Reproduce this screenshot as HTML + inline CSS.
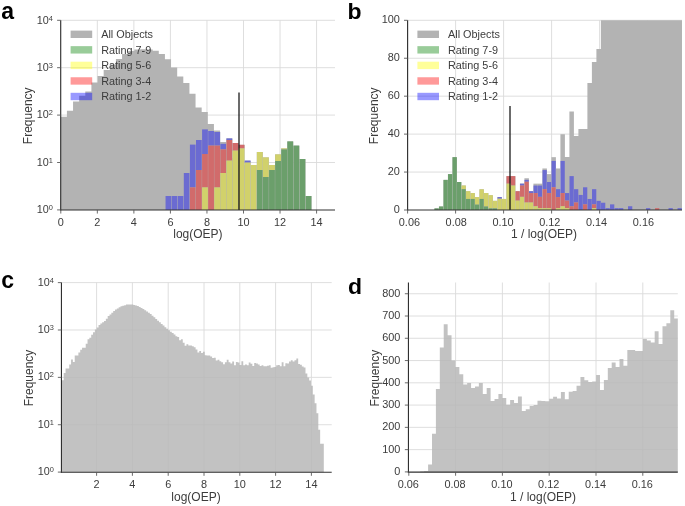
<!DOCTYPE html>
<html><head><meta charset="utf-8"><title>Figure</title>
<style>
html,body{margin:0;padding:0;background:#fff;}
body{width:685px;height:506px;overflow:hidden;}
svg{display:block;will-change:transform;font-family:'Liberation Sans', sans-serif;}
</style></head><body>
<svg width="685" height="506" viewBox="0 0 685 506" font-family='"Liberation Sans", sans-serif'>
<rect x="0" y="0" width="685" height="506" fill="#ffffff"/>
<line x1="97.34" y1="20.20" x2="97.34" y2="209.95" stroke="#dadada" stroke-width="0.9"/>
<line x1="133.88" y1="20.20" x2="133.88" y2="209.95" stroke="#dadada" stroke-width="0.9"/>
<line x1="170.42" y1="20.20" x2="170.42" y2="209.95" stroke="#dadada" stroke-width="0.9"/>
<line x1="206.96" y1="20.20" x2="206.96" y2="209.95" stroke="#dadada" stroke-width="0.9"/>
<line x1="243.50" y1="20.20" x2="243.50" y2="209.95" stroke="#dadada" stroke-width="0.9"/>
<line x1="280.04" y1="20.20" x2="280.04" y2="209.95" stroke="#dadada" stroke-width="0.9"/>
<line x1="316.58" y1="20.20" x2="316.58" y2="209.95" stroke="#dadada" stroke-width="0.9"/>
<line x1="60.70" y1="162.50" x2="335.00" y2="162.50" stroke="#dadada" stroke-width="0.9"/>
<line x1="60.70" y1="115.10" x2="335.00" y2="115.10" stroke="#dadada" stroke-width="0.9"/>
<line x1="60.70" y1="67.70" x2="335.00" y2="67.70" stroke="#dadada" stroke-width="0.9"/>
<line x1="60.70" y1="20.30" x2="335.00" y2="20.30" stroke="#dadada" stroke-width="0.9"/>
<polygon fill="#b3b3b3" points="60.70,209.95 60.80,116.80 66.92,116.80 66.92,110.80 73.05,110.80 73.05,101.40 79.17,101.40 79.17,95.80 85.30,95.80 85.30,91.60 91.42,91.60 91.42,82.50 97.55,82.50 97.55,76.10 103.67,76.10 103.67,69.90 109.80,69.90 109.80,64.40 115.92,64.40 115.92,59.00 122.05,59.00 122.05,54.00 128.18,54.00 128.18,51.00 134.30,51.00 134.30,49.60 140.43,49.60 140.43,49.30 146.55,49.30 146.55,49.50 152.68,49.50 152.68,50.70 158.80,50.70 158.80,53.90 164.93,53.90 164.93,59.20 171.05,59.20 171.05,67.40 177.18,67.40 177.18,76.60 183.30,76.60 183.30,82.90 189.43,82.90 189.43,93.80 195.55,93.80 195.55,107.60 201.68,107.60 201.68,112.00 207.80,112.00 207.80,124.00 213.93,124.00 213.93,130.60 220.05,130.60 220.05,142.00 226.18,142.00 226.18,150.00 232.30,150.00 232.30,158.00 238.43,158.00 238.43,165.00 244.55,165.00 244.55,209.95"/>
<rect x="165.40" y="196.00" width="6.09" height="13.95" fill="#b3b3b3" />
<rect x="165.55" y="196.00" width="5.79" height="13.95" fill="#6b6bd1" />
<rect x="171.49" y="196.00" width="6.09" height="13.95" fill="#b3b3b3" />
<rect x="171.64" y="196.00" width="5.79" height="13.95" fill="#6b6bd1" />
<rect x="177.58" y="196.00" width="6.09" height="13.95" fill="#b3b3b3" />
<rect x="177.73" y="196.00" width="5.79" height="13.95" fill="#6b6bd1" />
<rect x="183.67" y="173.00" width="6.09" height="36.95" fill="#b3b3b3" />
<rect x="183.82" y="173.00" width="5.79" height="36.95" fill="#6b6bd1" />
<rect x="189.76" y="144.60" width="6.09" height="65.35" fill="#b3b3b3" />
<rect x="189.91" y="144.60" width="5.79" height="42.80" fill="#6b6bd1" />
<rect x="189.91" y="187.40" width="5.79" height="22.55" fill="#d16b6b" />
<rect x="195.85" y="140.00" width="6.09" height="69.95" fill="#b3b3b3" />
<rect x="196.00" y="140.00" width="5.79" height="30.00" fill="#6b6bd1" />
<rect x="196.00" y="170.00" width="5.79" height="39.95" fill="#d16b6b" />
<rect x="201.94" y="129.40" width="6.09" height="80.55" fill="#b3b3b3" />
<rect x="202.09" y="129.40" width="5.79" height="24.60" fill="#6b6bd1" />
<rect x="202.09" y="154.00" width="5.79" height="33.40" fill="#d16b6b" />
<rect x="202.09" y="187.40" width="5.79" height="22.55" fill="#d1d16b" />
<rect x="208.03" y="131.00" width="6.09" height="78.95" fill="#b3b3b3" />
<rect x="208.18" y="131.00" width="5.79" height="14.60" fill="#6b6bd1" />
<rect x="208.18" y="145.60" width="5.79" height="64.35" fill="#d16b6b" />
<rect x="214.12" y="132.00" width="6.09" height="77.95" fill="#b3b3b3" />
<rect x="214.27" y="132.00" width="5.79" height="13.60" fill="#6b6bd1" />
<rect x="214.27" y="145.60" width="5.79" height="41.80" fill="#d16b6b" />
<rect x="214.27" y="187.40" width="5.79" height="22.55" fill="#d1d16b" />
<rect x="220.21" y="143.80" width="6.09" height="66.15" fill="#b3b3b3" />
<rect x="220.36" y="143.80" width="5.79" height="5.60" fill="#6b6bd1" />
<rect x="220.36" y="149.40" width="5.79" height="23.60" fill="#d16b6b" />
<rect x="220.36" y="173.00" width="5.79" height="36.95" fill="#d1d16b" />
<rect x="226.30" y="138.40" width="6.09" height="71.55" fill="#b3b3b3" />
<rect x="226.45" y="138.40" width="5.79" height="1.60" fill="#6b6bd1" />
<rect x="226.45" y="140.00" width="5.79" height="20.60" fill="#d16b6b" />
<rect x="226.45" y="160.60" width="5.79" height="49.35" fill="#d1d16b" />
<rect x="232.39" y="143.00" width="6.09" height="66.95" fill="#b3b3b3" />
<rect x="232.54" y="143.00" width="5.79" height="7.60" fill="#d16b6b" />
<rect x="232.54" y="150.60" width="5.79" height="59.35" fill="#d1d16b" />
<rect x="238.48" y="144.80" width="6.09" height="65.15" fill="#b3b3b3" />
<rect x="238.63" y="144.80" width="5.79" height="3.60" fill="#d16b6b" />
<rect x="238.63" y="148.40" width="5.79" height="61.55" fill="#d1d16b" />
<rect x="244.57" y="160.60" width="6.09" height="49.35" fill="#b3b3b3" />
<rect x="244.72" y="160.60" width="5.79" height="2.00" fill="#6b6bd1" />
<rect x="244.72" y="162.60" width="5.79" height="47.35" fill="#d1d16b" />
<rect x="250.66" y="165.00" width="6.09" height="44.95" fill="#b3b3b3" />
<rect x="250.81" y="165.00" width="5.79" height="44.95" fill="#d1d16b" />
<rect x="256.75" y="152.00" width="6.09" height="57.95" fill="#b3b3b3" />
<rect x="256.90" y="152.00" width="5.79" height="18.00" fill="#d1d16b" />
<rect x="256.90" y="170.00" width="5.79" height="39.95" fill="#6b9f6b" />
<rect x="262.84" y="157.40" width="6.09" height="52.55" fill="#b3b3b3" />
<rect x="262.99" y="157.40" width="5.79" height="19.60" fill="#d1d16b" />
<rect x="262.99" y="177.00" width="5.79" height="32.95" fill="#6b9f6b" />
<rect x="268.93" y="165.00" width="6.09" height="44.95" fill="#b3b3b3" />
<rect x="269.08" y="165.00" width="5.79" height="5.00" fill="#d1d16b" />
<rect x="269.08" y="170.00" width="5.79" height="39.95" fill="#6b9f6b" />
<rect x="275.02" y="154.40" width="6.09" height="55.55" fill="#b3b3b3" />
<rect x="275.17" y="154.40" width="5.79" height="6.60" fill="#d1d16b" />
<rect x="275.17" y="161.00" width="5.79" height="48.95" fill="#6b9f6b" />
<rect x="281.11" y="148.40" width="6.09" height="61.55" fill="#b3b3b3" />
<rect x="281.26" y="148.40" width="5.79" height="1.00" fill="#d1d16b" />
<rect x="281.26" y="149.40" width="5.79" height="60.55" fill="#6b9f6b" />
<rect x="287.20" y="141.40" width="6.09" height="68.55" fill="#b3b3b3" />
<rect x="287.35" y="141.40" width="5.79" height="68.55" fill="#6b9f6b" />
<rect x="293.29" y="145.60" width="6.09" height="64.35" fill="#b3b3b3" />
<rect x="293.44" y="145.60" width="5.79" height="64.35" fill="#6b9f6b" />
<rect x="299.38" y="159.00" width="6.09" height="50.95" fill="#b3b3b3" />
<rect x="299.53" y="159.00" width="5.79" height="50.95" fill="#6b9f6b" />
<rect x="305.47" y="196.00" width="6.09" height="13.95" fill="#b3b3b3" />
<rect x="305.62" y="196.00" width="5.79" height="13.95" fill="#6b9f6b" />
<rect x="238" y="92.5" width="2" height="117.45" fill="#000" fill-opacity="0.58"/>
<line x1="60.70" y1="20.20" x2="60.70" y2="210.55" stroke="#303030" stroke-width="1.15"/>
<line x1="60.10" y1="209.95" x2="335.00" y2="209.95" stroke="#303030" stroke-width="1.15"/>
<line x1="60.80" y1="209.95" x2="60.80" y2="213.55" stroke="#5a5a5a" stroke-width="0.9"/>
<text x="60.80" y="225.80" font-size="10.9" text-anchor="middle" fill="#3c3c3c" >0</text>
<line x1="97.34" y1="209.95" x2="97.34" y2="213.55" stroke="#5a5a5a" stroke-width="0.9"/>
<text x="97.34" y="225.80" font-size="10.9" text-anchor="middle" fill="#3c3c3c" >2</text>
<line x1="133.88" y1="209.95" x2="133.88" y2="213.55" stroke="#5a5a5a" stroke-width="0.9"/>
<text x="133.88" y="225.80" font-size="10.9" text-anchor="middle" fill="#3c3c3c" >4</text>
<line x1="170.42" y1="209.95" x2="170.42" y2="213.55" stroke="#5a5a5a" stroke-width="0.9"/>
<text x="170.42" y="225.80" font-size="10.9" text-anchor="middle" fill="#3c3c3c" >6</text>
<line x1="206.96" y1="209.95" x2="206.96" y2="213.55" stroke="#5a5a5a" stroke-width="0.9"/>
<text x="206.96" y="225.80" font-size="10.9" text-anchor="middle" fill="#3c3c3c" >8</text>
<line x1="243.50" y1="209.95" x2="243.50" y2="213.55" stroke="#5a5a5a" stroke-width="0.9"/>
<text x="243.50" y="225.80" font-size="10.9" text-anchor="middle" fill="#3c3c3c" >10</text>
<line x1="280.04" y1="209.95" x2="280.04" y2="213.55" stroke="#5a5a5a" stroke-width="0.9"/>
<text x="280.04" y="225.80" font-size="10.9" text-anchor="middle" fill="#3c3c3c" >12</text>
<line x1="316.58" y1="209.95" x2="316.58" y2="213.55" stroke="#5a5a5a" stroke-width="0.9"/>
<text x="316.58" y="225.80" font-size="10.9" text-anchor="middle" fill="#3c3c3c" >14</text>
<line x1="57.10" y1="209.90" x2="60.70" y2="209.90" stroke="#5a5a5a" stroke-width="0.9"/>
<text x="52.80" y="213.10" font-size="10.8" text-anchor="end" fill="#3c3c3c">10<tspan font-size="7.4" dy="-3.0">0</tspan></text>
<line x1="57.10" y1="162.50" x2="60.70" y2="162.50" stroke="#5a5a5a" stroke-width="0.9"/>
<text x="52.80" y="165.70" font-size="10.8" text-anchor="end" fill="#3c3c3c">10<tspan font-size="7.4" dy="-3.0">1</tspan></text>
<line x1="57.10" y1="115.10" x2="60.70" y2="115.10" stroke="#5a5a5a" stroke-width="0.9"/>
<text x="52.80" y="118.30" font-size="10.8" text-anchor="end" fill="#3c3c3c">10<tspan font-size="7.4" dy="-3.0">2</tspan></text>
<line x1="57.10" y1="67.70" x2="60.70" y2="67.70" stroke="#5a5a5a" stroke-width="0.9"/>
<text x="52.80" y="70.90" font-size="10.8" text-anchor="end" fill="#3c3c3c">10<tspan font-size="7.4" dy="-3.0">3</tspan></text>
<line x1="57.10" y1="20.30" x2="60.70" y2="20.30" stroke="#5a5a5a" stroke-width="0.9"/>
<text x="52.80" y="23.50" font-size="10.8" text-anchor="end" fill="#3c3c3c">10<tspan font-size="7.4" dy="-3.0">4</tspan></text>
<text x="197.90" y="238.20" font-size="12" text-anchor="middle" fill="#3c3c3c" >log(OEP)</text>
<text transform="translate(31.80,115.80) rotate(-90)" font-size="12" text-anchor="middle" fill="#3c3c3c">Frequency</text>
<rect x="70.60" y="30.60" width="21.60" height="7.40" fill="#b3b3b3" />
<text x="101.20" y="38.10" font-size="10.85" text-anchor="start" fill="#3c3c3c" >All Objects</text>
<rect x="70.60" y="46.15" width="21.60" height="7.40" fill="#008000" fill-opacity="0.4"/>
<text x="101.20" y="53.65" font-size="10.85" text-anchor="start" fill="#3c3c3c" >Rating 7-9</text>
<rect x="70.60" y="61.70" width="21.60" height="7.40" fill="#ffff00" fill-opacity="0.4"/>
<text x="101.20" y="69.20" font-size="10.85" text-anchor="start" fill="#3c3c3c" >Rating 5-6</text>
<rect x="70.60" y="77.25" width="21.60" height="7.40" fill="#ff0000" fill-opacity="0.4"/>
<text x="101.20" y="84.75" font-size="10.85" text-anchor="start" fill="#3c3c3c" >Rating 3-4</text>
<rect x="70.60" y="92.80" width="21.60" height="7.40" fill="#0000ff" fill-opacity="0.4"/>
<text x="101.20" y="100.30" font-size="10.85" text-anchor="start" fill="#3c3c3c" >Rating 1-2</text>
<text x="1.2" y="18.6" font-size="23" font-weight="bold" fill="#000">a</text>
<line x1="455.60" y1="20.20" x2="455.60" y2="209.95" stroke="#dadada" stroke-width="0.9"/>
<line x1="503.60" y1="20.20" x2="503.60" y2="209.95" stroke="#dadada" stroke-width="0.9"/>
<line x1="551.60" y1="20.20" x2="551.60" y2="209.95" stroke="#dadada" stroke-width="0.9"/>
<line x1="599.60" y1="20.20" x2="599.60" y2="209.95" stroke="#dadada" stroke-width="0.9"/>
<line x1="647.60" y1="20.20" x2="647.60" y2="209.95" stroke="#dadada" stroke-width="0.9"/>
<line x1="407.60" y1="172.06" x2="682.00" y2="172.06" stroke="#dadada" stroke-width="0.9"/>
<line x1="407.60" y1="134.12" x2="682.00" y2="134.12" stroke="#dadada" stroke-width="0.9"/>
<line x1="407.60" y1="96.18" x2="682.00" y2="96.18" stroke="#dadada" stroke-width="0.9"/>
<line x1="407.60" y1="58.24" x2="682.00" y2="58.24" stroke="#dadada" stroke-width="0.9"/>
<line x1="407.60" y1="20.30" x2="682.00" y2="20.30" stroke="#dadada" stroke-width="0.9"/>
<polygon fill="#b3b3b3" points="560.40,209.95 560.40,134.20 564.90,134.20 564.90,156.91 569.40,156.91 569.40,111.60 573.90,111.60 573.90,136.00 578.40,136.00 578.40,129.00 582.90,129.00 582.90,129.00 587.40,129.00 587.40,83.00 591.90,83.00 591.90,62.00 596.40,62.00 596.40,49.00 600.90,49.00 600.90,20.20 605.40,20.20 605.40,20.20 609.90,20.20 609.90,20.20 614.40,20.20 614.40,20.20 618.90,20.20 618.90,20.20 623.40,20.20 623.40,20.20 627.90,20.20 627.90,20.20 632.40,20.20 632.40,20.20 636.90,20.20 636.90,20.20 641.40,20.20 641.40,20.20 645.90,20.20 645.90,20.20 650.40,20.20 650.40,20.20 654.90,20.20 654.90,20.20 659.40,20.20 659.40,20.20 663.90,20.20 663.90,20.20 668.40,20.20 668.40,20.20 672.90,20.20 672.90,20.20 677.40,20.20 677.40,20.20 681.90,20.20 681.90,20.20 682.00,20.20 682.00,209.95"/>
<rect x="434.40" y="208.38" width="4.50" height="1.57" fill="#b3b3b3" />
<rect x="434.52" y="208.38" width="4.26" height="1.57" fill="#6b9f6b" />
<rect x="438.90" y="206.50" width="4.50" height="3.45" fill="#b3b3b3" />
<rect x="439.02" y="206.50" width="4.26" height="3.45" fill="#6b9f6b" />
<rect x="443.40" y="179.88" width="4.50" height="30.07" fill="#b3b3b3" />
<rect x="443.52" y="179.88" width="4.26" height="30.07" fill="#6b9f6b" />
<rect x="447.90" y="174.11" width="4.50" height="35.84" fill="#b3b3b3" />
<rect x="448.02" y="174.11" width="4.26" height="35.84" fill="#6b9f6b" />
<rect x="452.40" y="157.16" width="4.50" height="52.79" fill="#b3b3b3" />
<rect x="452.52" y="157.16" width="4.26" height="52.79" fill="#6b9f6b" />
<rect x="456.90" y="182.02" width="4.50" height="27.93" fill="#b3b3b3" />
<rect x="457.02" y="182.02" width="4.26" height="27.93" fill="#6b9f6b" />
<rect x="461.40" y="185.53" width="4.50" height="24.42" fill="#b3b3b3" />
<rect x="461.52" y="185.53" width="4.26" height="3.64" fill="#d1d16b" />
<rect x="461.52" y="189.17" width="4.26" height="20.78" fill="#6b9f6b" />
<rect x="465.90" y="191.18" width="4.50" height="18.77" fill="#b3b3b3" />
<rect x="466.02" y="191.18" width="4.26" height="7.78" fill="#d1d16b" />
<rect x="466.02" y="198.96" width="4.26" height="10.99" fill="#6b9f6b" />
<rect x="470.40" y="193.06" width="4.50" height="16.89" fill="#b3b3b3" />
<rect x="470.52" y="193.06" width="4.26" height="5.90" fill="#d1d16b" />
<rect x="470.52" y="198.96" width="4.26" height="10.99" fill="#6b9f6b" />
<rect x="474.90" y="197.08" width="4.50" height="12.87" fill="#b3b3b3" />
<rect x="475.02" y="197.08" width="4.26" height="7.53" fill="#d1d16b" />
<rect x="475.02" y="204.61" width="4.26" height="5.34" fill="#6b9f6b" />
<rect x="479.40" y="189.30" width="4.50" height="20.65" fill="#b3b3b3" />
<rect x="479.52" y="189.30" width="4.26" height="9.67" fill="#d1d16b" />
<rect x="479.52" y="198.96" width="4.26" height="10.99" fill="#6b9f6b" />
<rect x="483.90" y="193.06" width="4.50" height="16.89" fill="#b3b3b3" />
<rect x="484.02" y="193.06" width="4.26" height="13.43" fill="#d1d16b" />
<rect x="484.02" y="206.50" width="4.26" height="3.45" fill="#6b9f6b" />
<rect x="488.40" y="195.20" width="4.50" height="14.75" fill="#b3b3b3" />
<rect x="488.52" y="195.20" width="4.26" height="13.18" fill="#d1d16b" />
<rect x="488.52" y="208.38" width="4.26" height="1.57" fill="#6b9f6b" />
<rect x="492.90" y="200.85" width="4.50" height="9.10" fill="#b3b3b3" />
<rect x="493.02" y="200.85" width="4.26" height="7.53" fill="#d1d16b" />
<rect x="493.02" y="208.38" width="4.26" height="1.57" fill="#6b9f6b" />
<rect x="497.40" y="197.08" width="4.50" height="12.87" fill="#b3b3b3" />
<rect x="497.52" y="197.08" width="4.26" height="1.63" fill="#6b6bd1" />
<rect x="497.52" y="198.71" width="4.26" height="11.24" fill="#d1d16b" />
<rect x="501.90" y="198.96" width="4.50" height="10.99" fill="#b3b3b3" />
<rect x="502.02" y="198.96" width="4.26" height="10.99" fill="#d1d16b" />
<rect x="506.40" y="176.11" width="4.50" height="33.84" fill="#b3b3b3" />
<rect x="506.52" y="176.11" width="4.26" height="7.53" fill="#d16b6b" />
<rect x="506.52" y="183.65" width="4.26" height="26.30" fill="#d1d16b" />
<rect x="510.90" y="176.11" width="4.50" height="33.84" fill="#b3b3b3" />
<rect x="511.02" y="176.11" width="4.26" height="9.42" fill="#d16b6b" />
<rect x="511.02" y="185.53" width="4.26" height="24.42" fill="#d1d16b" />
<rect x="515.40" y="191.18" width="4.50" height="18.77" fill="#b3b3b3" />
<rect x="515.52" y="191.18" width="4.26" height="9.42" fill="#d16b6b" />
<rect x="515.52" y="200.60" width="4.26" height="9.35" fill="#d1d16b" />
<rect x="519.90" y="183.65" width="4.50" height="26.30" fill="#b3b3b3" />
<rect x="520.02" y="183.65" width="4.26" height="1.88" fill="#6b6bd1" />
<rect x="520.02" y="185.53" width="4.26" height="11.30" fill="#d16b6b" />
<rect x="520.02" y="196.83" width="4.26" height="13.12" fill="#d1d16b" />
<rect x="524.40" y="178.25" width="4.50" height="31.70" fill="#b3b3b3" />
<rect x="524.52" y="179.88" width="4.26" height="1.88" fill="#6b6bd1" />
<rect x="524.52" y="181.76" width="4.26" height="20.72" fill="#d16b6b" />
<rect x="524.52" y="202.48" width="4.26" height="7.47" fill="#d1d16b" />
<rect x="528.90" y="191.18" width="4.50" height="18.77" fill="#b3b3b3" />
<rect x="529.02" y="191.18" width="4.26" height="1.88" fill="#6b6bd1" />
<rect x="529.02" y="193.06" width="4.26" height="9.42" fill="#d16b6b" />
<rect x="529.02" y="202.48" width="4.26" height="7.47" fill="#d1d16b" />
<rect x="533.40" y="183.65" width="4.50" height="26.30" fill="#b3b3b3" />
<rect x="533.52" y="185.53" width="4.26" height="7.53" fill="#6b6bd1" />
<rect x="533.52" y="193.06" width="4.26" height="13.18" fill="#d16b6b" />
<rect x="533.52" y="206.25" width="4.26" height="3.70" fill="#d1d16b" />
<rect x="537.90" y="183.65" width="4.50" height="26.30" fill="#b3b3b3" />
<rect x="538.02" y="185.53" width="4.26" height="11.30" fill="#6b6bd1" />
<rect x="538.02" y="196.83" width="4.26" height="11.30" fill="#d16b6b" />
<rect x="538.02" y="208.13" width="4.26" height="1.82" fill="#d1d16b" />
<rect x="542.40" y="168.46" width="4.50" height="41.49" fill="#b3b3b3" />
<rect x="542.52" y="170.09" width="4.26" height="19.08" fill="#6b6bd1" />
<rect x="542.52" y="189.17" width="4.26" height="18.96" fill="#d16b6b" />
<rect x="542.52" y="208.13" width="4.26" height="1.82" fill="#d1d16b" />
<rect x="546.90" y="174.11" width="4.50" height="35.84" fill="#b3b3b3" />
<rect x="547.02" y="182.02" width="4.26" height="11.05" fill="#6b6bd1" />
<rect x="547.02" y="193.06" width="4.26" height="15.07" fill="#d16b6b" />
<rect x="547.02" y="208.13" width="4.26" height="1.82" fill="#d1d16b" />
<rect x="551.40" y="157.16" width="4.50" height="52.79" fill="#b3b3b3" />
<rect x="551.52" y="160.92" width="4.26" height="26.37" fill="#6b6bd1" />
<rect x="551.52" y="187.29" width="4.26" height="22.66" fill="#d16b6b" />
<rect x="555.90" y="168.46" width="4.50" height="41.49" fill="#b3b3b3" />
<rect x="556.02" y="189.17" width="4.26" height="7.91" fill="#6b6bd1" />
<rect x="556.02" y="197.08" width="4.26" height="11.05" fill="#d16b6b" />
<rect x="556.02" y="208.13" width="4.26" height="1.82" fill="#d1d16b" />
<rect x="560.52" y="160.92" width="4.26" height="32.14" fill="#6b6bd1" />
<rect x="560.52" y="193.06" width="4.26" height="13.18" fill="#d16b6b" />
<rect x="560.52" y="206.25" width="4.26" height="3.70" fill="#d1d16b" />
<rect x="565.02" y="193.06" width="4.26" height="7.53" fill="#6b6bd1" />
<rect x="565.02" y="200.60" width="4.26" height="7.53" fill="#d16b6b" />
<rect x="565.02" y="208.13" width="4.26" height="1.82" fill="#d1d16b" />
<rect x="569.52" y="176.11" width="4.26" height="30.13" fill="#6b6bd1" />
<rect x="569.52" y="206.25" width="4.26" height="3.70" fill="#d16b6b" />
<rect x="574.02" y="189.17" width="4.26" height="13.31" fill="#6b6bd1" />
<rect x="574.02" y="202.48" width="4.26" height="7.47" fill="#d16b6b" />
<rect x="578.52" y="194.95" width="4.26" height="15.00" fill="#6b6bd1" />
<rect x="583.02" y="187.29" width="4.26" height="17.07" fill="#6b6bd1" />
<rect x="583.02" y="204.36" width="4.26" height="5.59" fill="#d16b6b" />
<rect x="587.52" y="198.96" width="4.26" height="10.99" fill="#6b6bd1" />
<rect x="592.02" y="189.17" width="4.26" height="15.19" fill="#6b6bd1" />
<rect x="592.02" y="204.36" width="4.26" height="3.77" fill="#d16b6b" />
<rect x="592.02" y="208.13" width="4.26" height="1.82" fill="#d1d16b" />
<rect x="596.52" y="200.85" width="4.26" height="9.10" fill="#6b6bd1" />
<rect x="601.02" y="202.73" width="4.26" height="7.22" fill="#6b6bd1" />
<rect x="605.52" y="208.13" width="4.26" height="1.82" fill="#6b6bd1" />
<rect x="610.02" y="204.36" width="4.26" height="5.59" fill="#6b6bd1" />
<rect x="614.52" y="208.13" width="4.26" height="1.82" fill="#6b6bd1" />
<rect x="619.02" y="208.13" width="4.26" height="1.82" fill="#6b6bd1" />
<rect x="628.02" y="206.25" width="4.26" height="3.70" fill="#6b6bd1" />
<rect x="646.02" y="208.13" width="4.26" height="1.82" fill="#6b6bd1" />
<rect x="655.02" y="208.13" width="4.26" height="1.82" fill="#d16b6b" />
<rect x="668.52" y="208.13" width="4.26" height="1.82" fill="#6b6bd1" />
<rect x="677.52" y="208.13" width="4.26" height="1.82" fill="#6b6bd1" />
<rect x="509" y="106.0" width="2" height="103.95" fill="#000" fill-opacity="0.58"/>
<line x1="407.60" y1="20.20" x2="407.60" y2="210.55" stroke="#303030" stroke-width="1.15"/>
<line x1="407.00" y1="209.95" x2="682.00" y2="209.95" stroke="#303030" stroke-width="1.15"/>
<line x1="407.60" y1="209.95" x2="407.60" y2="213.55" stroke="#5a5a5a" stroke-width="0.9"/>
<text x="409.40" y="225.80" font-size="10.9" text-anchor="middle" fill="#3c3c3c" >0.06</text>
<line x1="455.60" y1="209.95" x2="455.60" y2="213.55" stroke="#5a5a5a" stroke-width="0.9"/>
<text x="456.20" y="225.80" font-size="10.9" text-anchor="middle" fill="#3c3c3c" >0.08</text>
<line x1="503.60" y1="209.95" x2="503.60" y2="213.55" stroke="#5a5a5a" stroke-width="0.9"/>
<text x="503.00" y="225.80" font-size="10.9" text-anchor="middle" fill="#3c3c3c" >0.10</text>
<line x1="551.60" y1="209.95" x2="551.60" y2="213.55" stroke="#5a5a5a" stroke-width="0.9"/>
<text x="549.80" y="225.80" font-size="10.9" text-anchor="middle" fill="#3c3c3c" >0.12</text>
<line x1="599.60" y1="209.95" x2="599.60" y2="213.55" stroke="#5a5a5a" stroke-width="0.9"/>
<text x="596.60" y="225.80" font-size="10.9" text-anchor="middle" fill="#3c3c3c" >0.14</text>
<line x1="647.60" y1="209.95" x2="647.60" y2="213.55" stroke="#5a5a5a" stroke-width="0.9"/>
<text x="643.40" y="225.80" font-size="10.9" text-anchor="middle" fill="#3c3c3c" >0.16</text>
<line x1="404.00" y1="210.00" x2="407.60" y2="210.00" stroke="#5a5a5a" stroke-width="0.9"/>
<text x="399.90" y="213.10" font-size="10.9" text-anchor="end" fill="#3c3c3c" >0</text>
<line x1="404.00" y1="172.06" x2="407.60" y2="172.06" stroke="#5a5a5a" stroke-width="0.9"/>
<text x="399.90" y="175.16" font-size="10.9" text-anchor="end" fill="#3c3c3c" >20</text>
<line x1="404.00" y1="134.12" x2="407.60" y2="134.12" stroke="#5a5a5a" stroke-width="0.9"/>
<text x="399.90" y="137.22" font-size="10.9" text-anchor="end" fill="#3c3c3c" >40</text>
<line x1="404.00" y1="96.18" x2="407.60" y2="96.18" stroke="#5a5a5a" stroke-width="0.9"/>
<text x="399.90" y="99.28" font-size="10.9" text-anchor="end" fill="#3c3c3c" >60</text>
<line x1="404.00" y1="58.24" x2="407.60" y2="58.24" stroke="#5a5a5a" stroke-width="0.9"/>
<text x="399.90" y="61.34" font-size="10.9" text-anchor="end" fill="#3c3c3c" >80</text>
<line x1="404.00" y1="20.30" x2="407.60" y2="20.30" stroke="#5a5a5a" stroke-width="0.9"/>
<text x="399.90" y="23.40" font-size="10.9" text-anchor="end" fill="#3c3c3c" >100</text>
<text x="544.00" y="238.20" font-size="12" text-anchor="middle" fill="#3c3c3c" >1 / log(OEP)</text>
<text transform="translate(378.20,115.80) rotate(-90)" font-size="12" text-anchor="middle" fill="#3c3c3c">Frequency</text>
<rect x="417.40" y="30.60" width="21.60" height="7.40" fill="#b3b3b3" />
<text x="448.00" y="38.10" font-size="10.85" text-anchor="start" fill="#3c3c3c" >All Objects</text>
<rect x="417.40" y="46.15" width="21.60" height="7.40" fill="#008000" fill-opacity="0.4"/>
<text x="448.00" y="53.65" font-size="10.85" text-anchor="start" fill="#3c3c3c" >Rating 7-9</text>
<rect x="417.40" y="61.70" width="21.60" height="7.40" fill="#ffff00" fill-opacity="0.4"/>
<text x="448.00" y="69.20" font-size="10.85" text-anchor="start" fill="#3c3c3c" >Rating 5-6</text>
<rect x="417.40" y="77.25" width="21.60" height="7.40" fill="#ff0000" fill-opacity="0.4"/>
<text x="448.00" y="84.75" font-size="10.85" text-anchor="start" fill="#3c3c3c" >Rating 3-4</text>
<rect x="417.40" y="92.80" width="21.60" height="7.40" fill="#0000ff" fill-opacity="0.4"/>
<text x="448.00" y="100.30" font-size="10.85" text-anchor="start" fill="#3c3c3c" >Rating 1-2</text>
<text transform="translate(347.6,18.7) scale(1,0.965)" font-size="23" font-weight="bold" fill="#000">b</text>
<line x1="96.60" y1="282.50" x2="96.60" y2="472.20" stroke="#dadada" stroke-width="0.9"/>
<line x1="132.40" y1="282.50" x2="132.40" y2="472.20" stroke="#dadada" stroke-width="0.9"/>
<line x1="168.20" y1="282.50" x2="168.20" y2="472.20" stroke="#dadada" stroke-width="0.9"/>
<line x1="204.00" y1="282.50" x2="204.00" y2="472.20" stroke="#dadada" stroke-width="0.9"/>
<line x1="239.80" y1="282.50" x2="239.80" y2="472.20" stroke="#dadada" stroke-width="0.9"/>
<line x1="275.60" y1="282.50" x2="275.60" y2="472.20" stroke="#dadada" stroke-width="0.9"/>
<line x1="311.40" y1="282.50" x2="311.40" y2="472.20" stroke="#dadada" stroke-width="0.9"/>
<line x1="61.45" y1="424.73" x2="331.70" y2="424.73" stroke="#dadada" stroke-width="0.9"/>
<line x1="61.45" y1="377.36" x2="331.70" y2="377.36" stroke="#dadada" stroke-width="0.9"/>
<line x1="61.45" y1="329.99" x2="331.70" y2="329.99" stroke="#dadada" stroke-width="0.9"/>
<line x1="61.45" y1="282.62" x2="331.70" y2="282.62" stroke="#dadada" stroke-width="0.9"/>
<polygon fill="#b7b7b7" fill-opacity="0.85" points="61.90,472.20 61.90,380.28 63.73,380.28 63.73,372.96 65.56,372.96 65.56,368.42 67.39,368.42 67.39,368.42 69.23,368.42 69.23,364.47 71.06,364.47 71.06,359.53 72.89,359.53 72.89,361.90 74.72,361.90 74.72,355.57 76.55,355.57 76.55,355.57 78.38,355.57 78.38,352.61 80.21,352.61 80.21,349.64 82.05,349.64 82.05,347.67 83.88,347.67 83.88,347.67 85.71,347.67 85.71,343.72 87.54,343.72 87.54,339.17 89.37,339.17 89.37,337.79 91.20,337.79 91.20,334.82 93.03,334.82 93.03,332.25 94.87,332.25 94.87,329.49 96.70,329.49 96.70,327.51 98.53,327.51 98.53,324.94 100.36,324.94 100.36,323.56 102.19,323.56 102.19,322.37 104.02,322.37 104.02,320.99 105.86,320.99 105.86,318.68 107.69,318.68 107.69,316.06 109.52,316.06 109.52,314.41 111.35,314.41 111.35,312.76 113.18,312.76 113.18,311.11 115.01,311.11 115.01,309.46 116.84,309.46 116.84,308.40 118.68,308.40 118.68,307.36 120.51,307.36 120.51,306.33 122.34,306.33 122.34,305.65 124.17,305.65 124.17,305.14 126.00,305.14 126.00,304.62 127.83,304.62 127.83,304.53 129.66,304.53 129.66,304.46 131.50,304.46 131.50,304.51 133.33,304.51 133.33,305.00 135.16,305.00 135.16,305.49 136.99,305.49 136.99,305.97 138.82,305.97 138.82,306.98 140.65,306.98 140.65,308.02 142.48,308.02 142.48,309.06 144.32,309.06 144.32,310.22 146.15,310.22 146.15,311.44 147.98,311.44 147.98,312.66 149.81,312.66 149.81,314.05 151.64,314.05 151.64,315.70 153.47,315.70 153.47,317.35 155.30,317.35 155.30,319.00 157.14,319.00 157.14,320.65 158.97,320.65 158.97,322.29 160.80,322.29 160.80,323.94 162.63,323.94 162.63,325.58 164.46,325.58 164.46,327.23 166.29,327.23 166.29,328.87 168.13,328.87 168.13,330.32 169.96,330.32 169.96,331.68 171.79,331.68 171.79,333.04 173.62,333.04 173.62,334.54 175.45,334.54 175.45,336.37 177.28,336.37 177.28,337.02 179.11,337.02 179.11,340.16 180.95,340.16 180.95,339.28 182.78,339.28 182.78,342.67 184.61,342.67 184.61,345.81 186.44,345.81 186.44,344.18 188.27,344.18 188.27,345.56 190.10,345.56 190.10,345.56 191.93,345.56 191.93,346.19 193.77,346.19 193.77,347.32 195.60,347.32 195.60,349.58 197.43,349.58 197.43,352.46 199.26,352.46 199.26,351.08 201.09,351.08 201.09,352.97 202.92,352.97 202.92,351.71 204.75,351.71 204.75,355.23 206.59,355.23 206.59,355.48 208.42,355.48 208.42,355.60 210.25,355.60 210.25,356.48 212.08,356.48 212.08,357.99 213.91,357.99 213.91,357.74 215.74,357.74 215.74,360.50 217.57,360.50 217.57,359.87 219.41,359.87 219.41,361.13 221.24,361.13 221.24,362.13 223.07,362.13 223.07,364.27 224.90,364.27 224.90,362.13 226.73,362.13 226.73,359.87 228.56,359.87 228.56,362.13 230.40,362.13 230.40,363.39 232.23,363.39 232.23,361.50 234.06,361.50 234.06,365.27 235.89,365.27 235.89,361.88 237.72,361.88 237.72,362.51 239.55,362.51 239.55,364.89 241.38,364.89 241.38,361.25 243.22,361.25 243.22,365.27 245.05,365.27 245.05,364.39 246.88,364.39 246.88,365.27 248.71,365.27 248.71,362.51 250.54,362.51 250.54,363.64 252.37,363.64 252.37,365.90 254.20,365.90 254.20,363.01 256.04,363.01 256.04,363.39 257.87,363.39 257.87,364.39 259.70,364.39 259.70,365.90 261.53,365.90 261.53,365.27 263.36,365.27 263.36,366.15 265.19,366.15 265.19,366.15 267.02,366.15 267.02,365.65 268.86,365.65 268.86,365.27 270.69,365.27 270.69,367.78 272.52,367.78 272.52,367.15 274.35,367.15 274.35,366.90 276.18,366.90 276.18,365.27 278.01,365.27 278.01,364.89 279.84,364.89 279.84,366.15 281.68,366.15 281.68,362.13 283.51,362.13 283.51,366.15 285.34,366.15 285.34,363.14 287.17,363.14 287.17,363.39 289.00,363.39 289.00,361.50 290.83,361.50 290.83,360.25 292.67,360.25 292.67,361.50 294.50,361.50 294.50,360.25 296.33,360.25 296.33,358.62 298.16,358.62 298.16,364.02 299.99,364.02 299.99,364.64 301.82,364.64 301.82,366.53 303.65,366.53 303.65,367.53 305.49,367.53 305.49,373.50 307.32,373.50 307.32,377.40 309.15,377.40 309.15,380.60 310.98,380.60 310.98,385.80 312.81,385.80 312.81,394.40 314.64,394.40 314.64,403.20 316.47,403.20 316.47,413.20 318.31,413.20 318.31,429.80 320.14,429.80 320.14,443.70 321.97,443.70 321.97,443.70 323.80,443.70 323.80,472.20"/>
<line x1="61.45" y1="282.50" x2="61.45" y2="472.80" stroke="#303030" stroke-width="1.15"/>
<line x1="60.85" y1="472.20" x2="331.70" y2="472.20" stroke="#303030" stroke-width="1.15"/>
<line x1="96.60" y1="472.20" x2="96.60" y2="475.80" stroke="#5a5a5a" stroke-width="0.9"/>
<text x="96.60" y="488.10" font-size="10.9" text-anchor="middle" fill="#3c3c3c" >2</text>
<line x1="132.40" y1="472.20" x2="132.40" y2="475.80" stroke="#5a5a5a" stroke-width="0.9"/>
<text x="132.40" y="488.10" font-size="10.9" text-anchor="middle" fill="#3c3c3c" >4</text>
<line x1="168.20" y1="472.20" x2="168.20" y2="475.80" stroke="#5a5a5a" stroke-width="0.9"/>
<text x="168.20" y="488.10" font-size="10.9" text-anchor="middle" fill="#3c3c3c" >6</text>
<line x1="204.00" y1="472.20" x2="204.00" y2="475.80" stroke="#5a5a5a" stroke-width="0.9"/>
<text x="204.00" y="488.10" font-size="10.9" text-anchor="middle" fill="#3c3c3c" >8</text>
<line x1="239.80" y1="472.20" x2="239.80" y2="475.80" stroke="#5a5a5a" stroke-width="0.9"/>
<text x="239.80" y="488.10" font-size="10.9" text-anchor="middle" fill="#3c3c3c" >10</text>
<line x1="275.60" y1="472.20" x2="275.60" y2="475.80" stroke="#5a5a5a" stroke-width="0.9"/>
<text x="275.60" y="488.10" font-size="10.9" text-anchor="middle" fill="#3c3c3c" >12</text>
<line x1="311.40" y1="472.20" x2="311.40" y2="475.80" stroke="#5a5a5a" stroke-width="0.9"/>
<text x="311.40" y="488.10" font-size="10.9" text-anchor="middle" fill="#3c3c3c" >14</text>
<line x1="57.85" y1="472.10" x2="61.45" y2="472.10" stroke="#5a5a5a" stroke-width="0.9"/>
<text x="53.80" y="475.00" font-size="10.8" text-anchor="end" fill="#3c3c3c">10<tspan font-size="7.4" dy="-3.0">0</tspan></text>
<line x1="57.85" y1="424.73" x2="61.45" y2="424.73" stroke="#5a5a5a" stroke-width="0.9"/>
<text x="53.80" y="427.63" font-size="10.8" text-anchor="end" fill="#3c3c3c">10<tspan font-size="7.4" dy="-3.0">1</tspan></text>
<line x1="57.85" y1="377.36" x2="61.45" y2="377.36" stroke="#5a5a5a" stroke-width="0.9"/>
<text x="53.80" y="380.26" font-size="10.8" text-anchor="end" fill="#3c3c3c">10<tspan font-size="7.4" dy="-3.0">2</tspan></text>
<line x1="57.85" y1="329.99" x2="61.45" y2="329.99" stroke="#5a5a5a" stroke-width="0.9"/>
<text x="53.80" y="332.89" font-size="10.8" text-anchor="end" fill="#3c3c3c">10<tspan font-size="7.4" dy="-3.0">3</tspan></text>
<line x1="57.85" y1="282.62" x2="61.45" y2="282.62" stroke="#5a5a5a" stroke-width="0.9"/>
<text x="53.80" y="285.52" font-size="10.8" text-anchor="end" fill="#3c3c3c">10<tspan font-size="7.4" dy="-3.0">4</tspan></text>
<text x="196.00" y="501.00" font-size="12" text-anchor="middle" fill="#3c3c3c" >log(OEP)</text>
<text transform="translate(33.00,378.00) rotate(-90)" font-size="12" text-anchor="middle" fill="#3c3c3c">Frequency</text>
<text x="1.2" y="287.7" font-size="23" font-weight="bold" fill="#000">c</text>
<line x1="455.60" y1="282.50" x2="455.60" y2="472.15" stroke="#dadada" stroke-width="0.9"/>
<line x1="502.40" y1="282.50" x2="502.40" y2="472.15" stroke="#dadada" stroke-width="0.9"/>
<line x1="549.20" y1="282.50" x2="549.20" y2="472.15" stroke="#dadada" stroke-width="0.9"/>
<line x1="596.00" y1="282.50" x2="596.00" y2="472.15" stroke="#dadada" stroke-width="0.9"/>
<line x1="642.80" y1="282.50" x2="642.80" y2="472.15" stroke="#dadada" stroke-width="0.9"/>
<line x1="408.45" y1="449.63" x2="677.80" y2="449.63" stroke="#dadada" stroke-width="0.9"/>
<line x1="408.45" y1="427.36" x2="677.80" y2="427.36" stroke="#dadada" stroke-width="0.9"/>
<line x1="408.45" y1="405.09" x2="677.80" y2="405.09" stroke="#dadada" stroke-width="0.9"/>
<line x1="408.45" y1="382.82" x2="677.80" y2="382.82" stroke="#dadada" stroke-width="0.9"/>
<line x1="408.45" y1="360.55" x2="677.80" y2="360.55" stroke="#dadada" stroke-width="0.9"/>
<line x1="408.45" y1="338.28" x2="677.80" y2="338.28" stroke="#dadada" stroke-width="0.9"/>
<line x1="408.45" y1="316.01" x2="677.80" y2="316.01" stroke="#dadada" stroke-width="0.9"/>
<line x1="408.45" y1="293.74" x2="677.80" y2="293.74" stroke="#dadada" stroke-width="0.9"/>
<polygon fill="#b7b7b7" fill-opacity="0.85" points="420.28,472.15 420.28,471.45 424.19,471.45 424.19,471.01 428.09,471.01 428.09,464.55 432.00,464.55 432.00,433.82 435.91,433.82 435.91,389.06 439.81,389.06 439.81,347.41 443.72,347.41 443.72,324.25 447.63,324.25 447.63,335.16 451.53,335.16 451.53,360.55 455.44,360.55 455.44,367.01 459.35,367.01 459.35,374.13 463.25,374.13 463.25,384.38 467.16,384.38 467.16,383.04 471.07,383.04 471.07,387.94 474.97,387.94 474.97,386.38 478.88,386.38 478.88,383.04 482.79,383.04 482.79,393.95 486.69,393.95 486.69,387.94 490.60,387.94 490.60,401.08 494.51,401.08 494.51,399.08 498.41,399.08 498.41,393.95 502.32,393.95 502.32,397.96 506.23,397.96 506.23,404.64 510.13,404.64 510.13,399.97 514.04,399.97 514.04,403.09 517.95,403.09 517.95,396.40 521.85,396.40 521.85,411.10 525.76,411.10 525.76,409.32 529.66,409.32 529.66,405.98 533.57,405.98 533.57,405.09 537.48,405.09 537.48,400.64 541.38,400.64 541.38,401.08 545.29,401.08 545.29,401.30 549.20,401.30 549.20,398.63 553.10,398.63 553.10,396.63 557.01,396.63 557.01,398.41 560.92,398.41 560.92,391.95 564.82,391.95 564.82,399.30 568.73,399.30 568.73,391.73 572.64,391.73 572.64,391.06 576.54,391.06 576.54,385.72 580.45,385.72 580.45,377.03 584.36,377.03 584.36,380.37 588.26,380.37 588.26,381.93 592.17,381.93 592.17,381.48 596.08,381.48 596.08,375.03 599.98,375.03 599.98,389.95 603.89,389.95 603.89,379.92 607.80,379.92 607.80,368.12 611.70,368.12 611.70,362.55 615.61,362.55 615.61,367.01 619.52,367.01 619.52,358.99 623.42,358.99 623.42,365.67 627.33,365.67 627.33,350.08 631.24,350.08 631.24,350.08 635.14,350.08 635.14,350.97 639.05,350.97 639.05,350.97 642.96,350.97 642.96,338.95 646.86,338.95 646.86,340.51 650.77,340.51 650.77,342.51 654.68,342.51 654.68,331.15 658.58,331.15 658.58,344.07 662.49,344.07 662.49,326.25 666.40,326.25 666.40,323.14 670.30,323.14 670.30,310.22 674.21,310.22 674.21,318.46 677.80,318.46 677.80,472.15"/>
<line x1="408.45" y1="282.50" x2="408.45" y2="472.75" stroke="#303030" stroke-width="1.15"/>
<line x1="407.85" y1="472.15" x2="677.80" y2="472.15" stroke="#303030" stroke-width="1.15"/>
<line x1="408.80" y1="472.15" x2="408.80" y2="475.75" stroke="#5a5a5a" stroke-width="0.9"/>
<text x="408.30" y="487.70" font-size="10.9" text-anchor="middle" fill="#3c3c3c" >0.06</text>
<line x1="455.60" y1="472.15" x2="455.60" y2="475.75" stroke="#5a5a5a" stroke-width="0.9"/>
<text x="455.10" y="487.70" font-size="10.9" text-anchor="middle" fill="#3c3c3c" >0.08</text>
<line x1="502.40" y1="472.15" x2="502.40" y2="475.75" stroke="#5a5a5a" stroke-width="0.9"/>
<text x="501.90" y="487.70" font-size="10.9" text-anchor="middle" fill="#3c3c3c" >0.10</text>
<line x1="549.20" y1="472.15" x2="549.20" y2="475.75" stroke="#5a5a5a" stroke-width="0.9"/>
<text x="548.70" y="487.70" font-size="10.9" text-anchor="middle" fill="#3c3c3c" >0.12</text>
<line x1="596.00" y1="472.15" x2="596.00" y2="475.75" stroke="#5a5a5a" stroke-width="0.9"/>
<text x="595.50" y="487.70" font-size="10.9" text-anchor="middle" fill="#3c3c3c" >0.14</text>
<line x1="642.80" y1="472.15" x2="642.80" y2="475.75" stroke="#5a5a5a" stroke-width="0.9"/>
<text x="642.30" y="487.70" font-size="10.9" text-anchor="middle" fill="#3c3c3c" >0.16</text>
<line x1="404.85" y1="471.90" x2="408.45" y2="471.90" stroke="#5a5a5a" stroke-width="0.9"/>
<text x="400.40" y="475.00" font-size="10.9" text-anchor="end" fill="#3c3c3c" >0</text>
<line x1="404.85" y1="449.63" x2="408.45" y2="449.63" stroke="#5a5a5a" stroke-width="0.9"/>
<text x="400.40" y="452.73" font-size="10.9" text-anchor="end" fill="#3c3c3c" >100</text>
<line x1="404.85" y1="427.36" x2="408.45" y2="427.36" stroke="#5a5a5a" stroke-width="0.9"/>
<text x="400.40" y="430.46" font-size="10.9" text-anchor="end" fill="#3c3c3c" >200</text>
<line x1="404.85" y1="405.09" x2="408.45" y2="405.09" stroke="#5a5a5a" stroke-width="0.9"/>
<text x="400.40" y="408.19" font-size="10.9" text-anchor="end" fill="#3c3c3c" >300</text>
<line x1="404.85" y1="382.82" x2="408.45" y2="382.82" stroke="#5a5a5a" stroke-width="0.9"/>
<text x="400.40" y="385.92" font-size="10.9" text-anchor="end" fill="#3c3c3c" >400</text>
<line x1="404.85" y1="360.55" x2="408.45" y2="360.55" stroke="#5a5a5a" stroke-width="0.9"/>
<text x="400.40" y="363.65" font-size="10.9" text-anchor="end" fill="#3c3c3c" >500</text>
<line x1="404.85" y1="338.28" x2="408.45" y2="338.28" stroke="#5a5a5a" stroke-width="0.9"/>
<text x="400.40" y="341.38" font-size="10.9" text-anchor="end" fill="#3c3c3c" >600</text>
<line x1="404.85" y1="316.01" x2="408.45" y2="316.01" stroke="#5a5a5a" stroke-width="0.9"/>
<text x="400.40" y="319.11" font-size="10.9" text-anchor="end" fill="#3c3c3c" >700</text>
<line x1="404.85" y1="293.74" x2="408.45" y2="293.74" stroke="#5a5a5a" stroke-width="0.9"/>
<text x="400.40" y="296.84" font-size="10.9" text-anchor="end" fill="#3c3c3c" >800</text>
<text x="543.00" y="500.60" font-size="12" text-anchor="middle" fill="#3c3c3c" >1 / log(OEP)</text>
<text transform="translate(378.90,378.20) rotate(-90)" font-size="12" text-anchor="middle" fill="#3c3c3c">Frequency</text>
<text transform="translate(347.9,293.6) scale(1,0.965)" font-size="23" font-weight="bold" fill="#000">d</text>
</svg>
</body></html>
